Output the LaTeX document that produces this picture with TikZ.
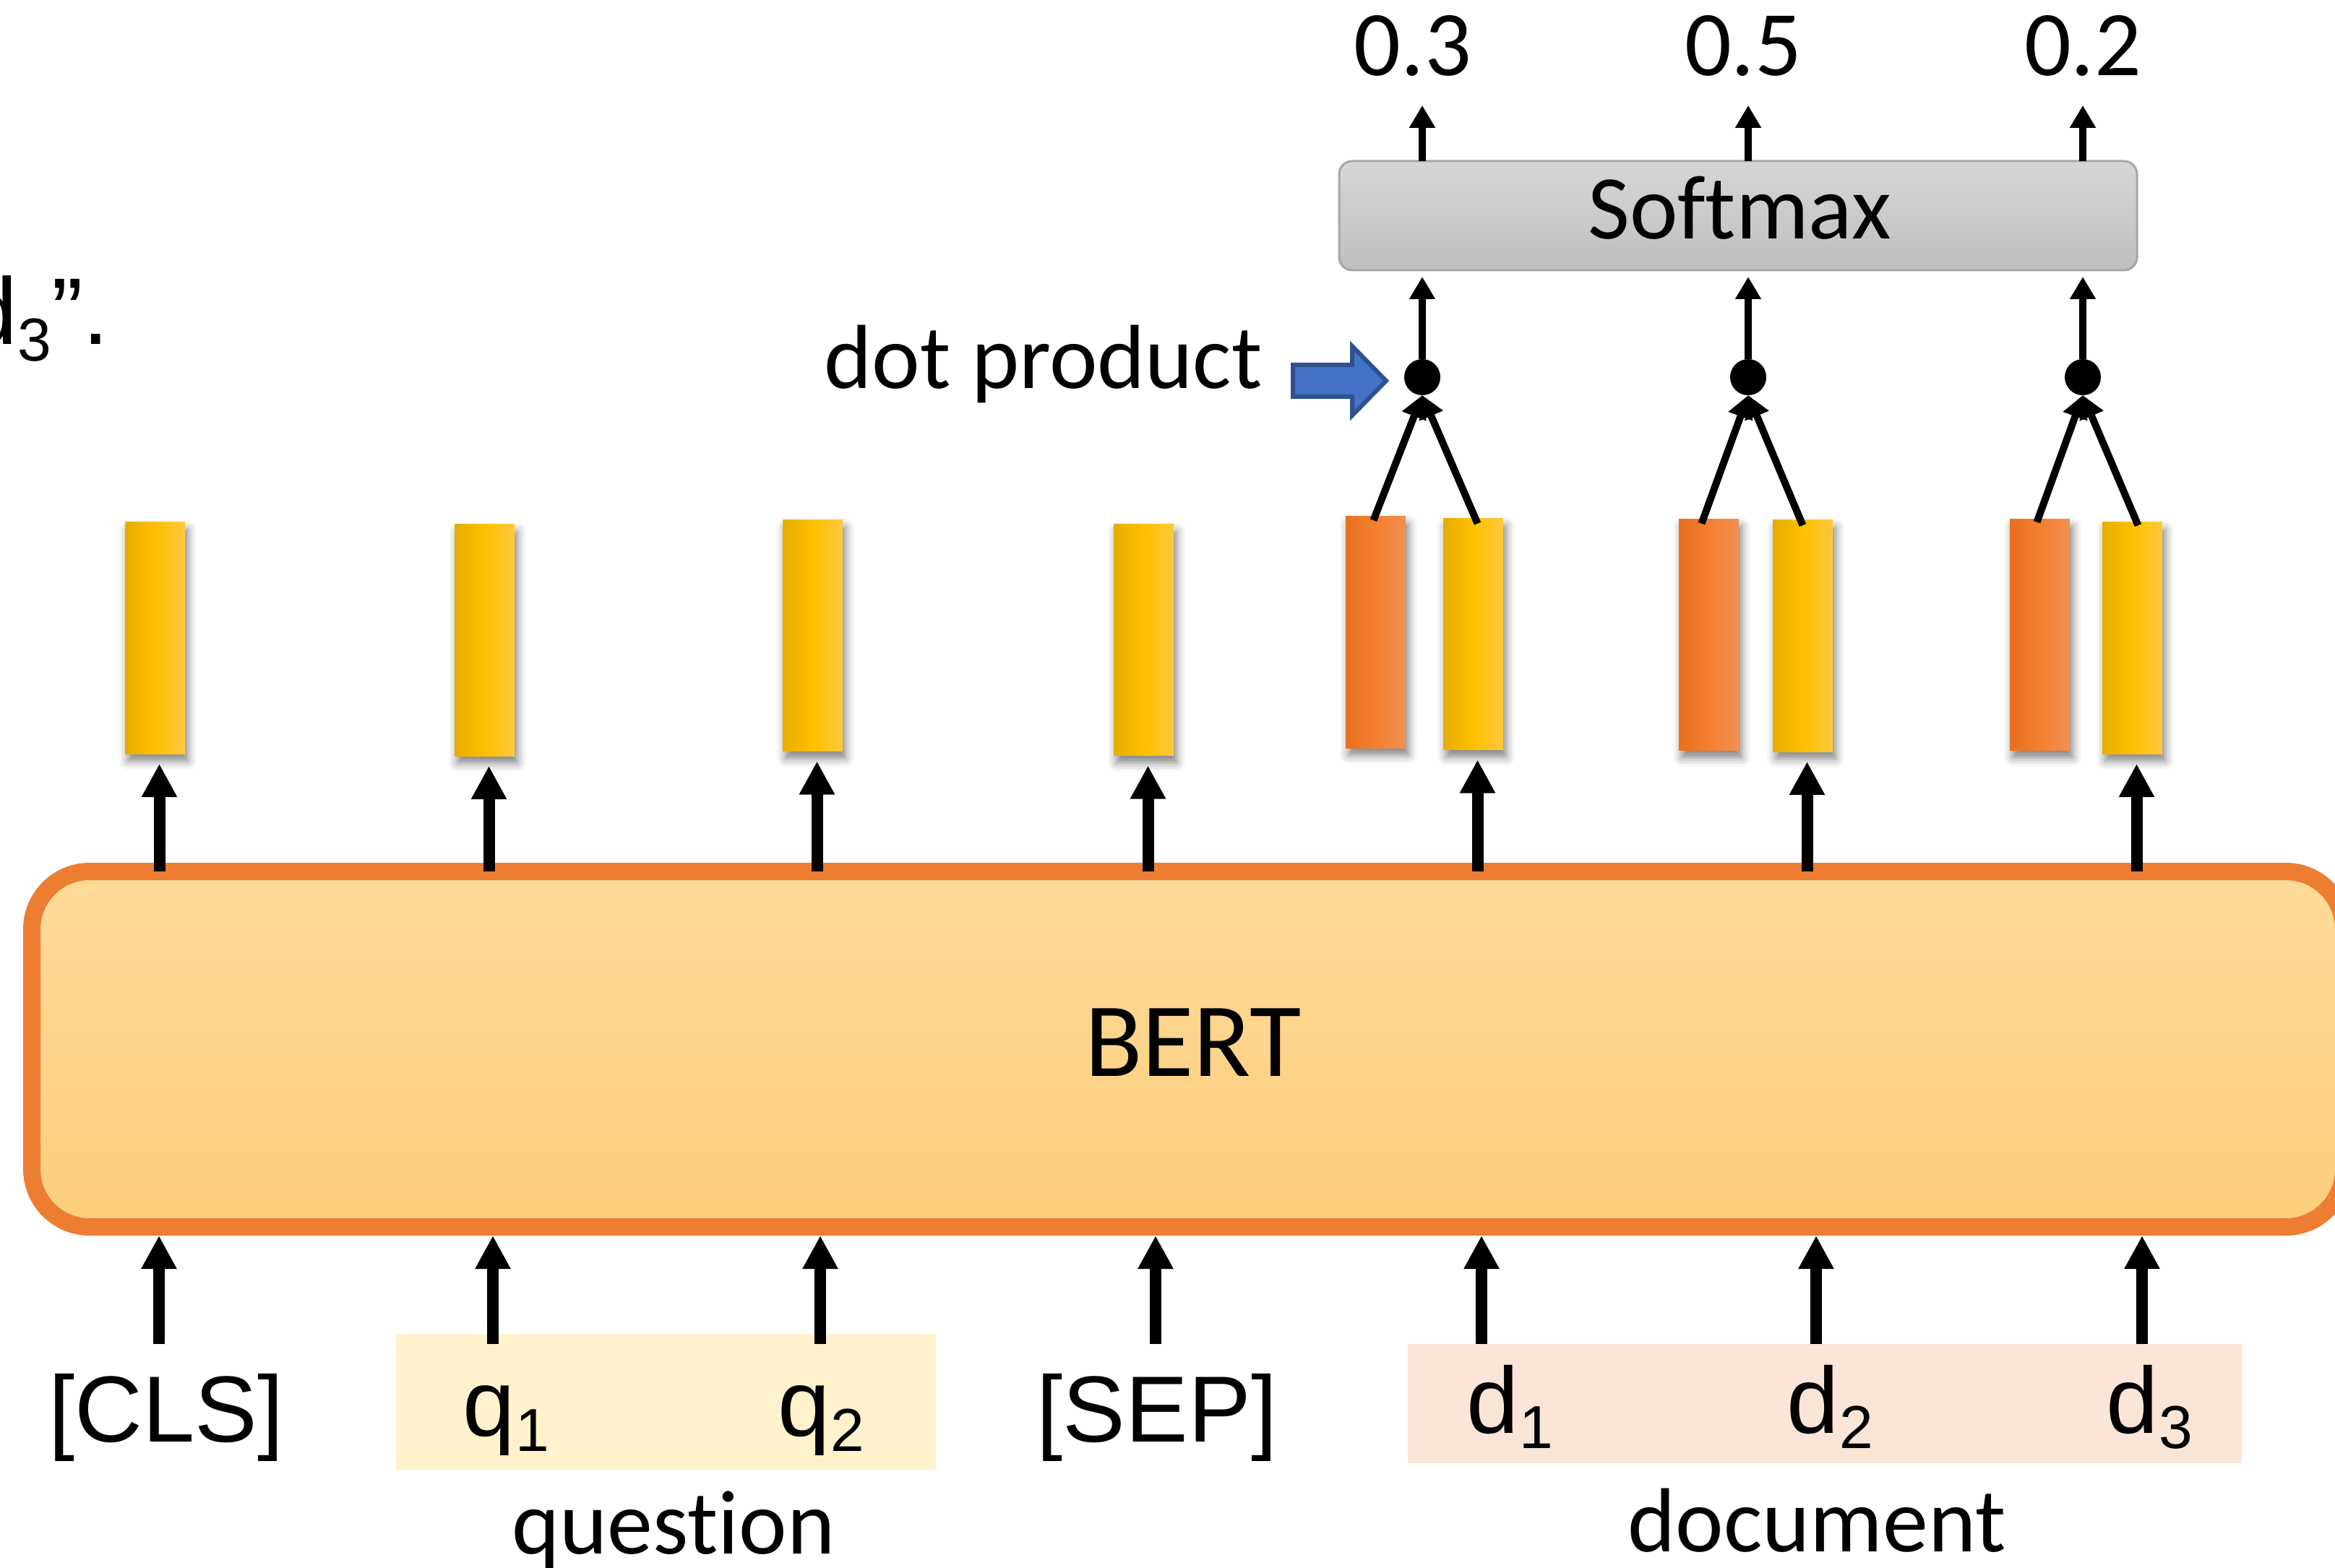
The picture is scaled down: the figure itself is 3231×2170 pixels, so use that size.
\documentclass[tikz,border=0pt]{standalone}
\usepackage{fontspec}
\setmainfont{Liberation Sans}
\newfontfamily\calib[Ligatures={NoCommon,NoContextual}]{Carlito}
\usetikzlibrary{arrows.meta,shadows.blur}
\definecolor{bertBorder}{HTML}{ED7D31}
\definecolor{bertTop}{HTML}{FEDA99}
\definecolor{bertBot}{HTML}{FCCE7D}
\definecolor{yL}{HTML}{E6AC00}
\definecolor{yM}{HTML}{FFC000}
\definecolor{yR}{HTML}{FFC93C}
\definecolor{oL}{HTML}{E8701F}
\definecolor{oM}{HTML}{F37F2F}
\definecolor{oR}{HTML}{F29052}
\definecolor{smTop}{HTML}{D6D6D6}
\definecolor{smBot}{HTML}{BFBFBF}
\definecolor{smBorder}{HTML}{A6A6A6}
\definecolor{qFill}{HTML}{FFF2CC}
\definecolor{dFill}{HTML}{FBE5D6}
\definecolor{blueFill}{HTML}{4472C4}
\definecolor{blueBorder}{HTML}{2F528F}
\newcommand{\tk}[2]{#1\raisebox{-5.25pt}{\fontsize{21}{21}\selectfont #2}}
\begin{document}
\begin{tikzpicture}[x=0.25pt,y=-0.25pt,
  barbase/.style={minimum width=20.75pt, minimum height=80pt, inner sep=0pt, outer sep=0pt,
    blur shadow={shadow xshift=1pt, shadow yshift=-2.5pt, shadow blur radius=3pt, shadow opacity=50}},
  ybar/.style={barbase, left color=yL, right color=yR, middle color=yM},
  obar/.style={barbase, left color=oL, right color=oR, middle color=oM},
  bigarr/.style={line width=4pt, -{Triangle[width=11.5pt,length=11.5pt]}},
  thinarr/.style={line width=2.5pt, -{Triangle[width=8.5pt,length=7.75pt]}},
  dotn/.style={circle, fill=black, minimum size=12.5pt, inner sep=0pt, outer sep=0pt},
  arialtxt/.style={font=\fontsize{32.5}{39}\selectfont, inner sep=0pt},
  calibtxt/.style={font=\calib\fontsize{31.5}{38}\selectfont, inner sep=0pt},
  bluearr/.style={fill=blueFill, draw=blueBorder, line width=1.5pt, line join=miter}
]
\useasboundingbox (0,0) rectangle (3231,2170);

% fragment of caption at top-left
\node[arialtxt, anchor=base west, font=\fontsize{32.75}{39}\selectfont] (frag) at (-49,477)
  {d\raisebox{-5.75pt}{\fontsize{21}{21}\selectfont 3}”.};

% BERT block
\node[draw=bertBorder, line width=6pt, rounded corners=20pt, top color=bertTop, bottom color=bertBot,
  minimum width=799.75pt, minimum height=123pt, inner sep=0pt, outer sep=0pt] (bert) at (1643.5,1452) {};
\node[calibtxt, font=\calib\fontsize{36.5}{44}\selectfont, anchor=base] (berttext) at (1651,1489) {BERT};

% highlight boxes
\node[fill=qFill, minimum width=186.75pt, minimum height=47pt, inner sep=0pt] (qbox) at (921.5,1940) {};
\node[fill=dFill, minimum width=288.5pt, minimum height=41.25pt, inner sep=0pt] (dbox) at (2525,1942.5) {};

% tokens
\node[arialtxt, anchor=base] (cls) at (230,1995) {[CLS]};
\node[arialtxt, anchor=base west] (q1) at (640,1987) {\tk{q}{1}};
\node[arialtxt, anchor=base west] (q2) at (1076,1987) {\tk{q}{2}};
\node[arialtxt, anchor=base] (sep) at (1601,1995) {[SEP]};
\node[arialtxt, anchor=base west] (d1) at (2029,1983) {\tk{d}{1}};
\node[arialtxt, anchor=base west] (d2) at (2472,1983) {\tk{d}{2}};
\node[arialtxt, anchor=base west] (d3) at (2914,1983) {\tk{d}{3}};
\node[calibtxt, anchor=base] (qlab) at (932,2150) {question};
\node[calibtxt, anchor=base] (dlab) at (2514,2147) {document};

% input arrows
\coordinate (s1) at (220,1860);
\coordinate (s2) at (682,1860);
\coordinate (s3) at (1135,1860);
\coordinate (s4) at (1599,1860);
\coordinate (s5) at (2050,1860);
\coordinate (s6) at (2513,1860);
\coordinate (s7) at (2964,1860);
\foreach \s in {s1,s2,s3,s4,s5,s6,s7}
  \draw[bigarr, shorten >=3pt] (\s) -- (\s |- bert.south);

% output vectors
\node[ybar] (y1) at (214.5,883) {};
\node[ybar] (y2) at (670.5,886) {};
\node[ybar] (y3) at (1124.5,879.5) {};
\node[ybar] (y4) at (1582.5,885.5) {};
\node[obar] (o1) at (1903.5,875) {};
\node[ybar] (y5) at (2038.5,877.5) {};
\node[obar] (o2) at (2364.5,878.5) {};
\node[ybar] (y6) at (2494.5,880) {};
\node[obar] (o3) at (2822.5,878.5) {};
\node[ybar] (y7) at (2950.5,883) {};

\foreach \b in {y1,y2,y3,y4,y5,y6,y7}
  \draw[bigarr] ([xshift=1.5pt]bert.north -| \b.south) -- ([xshift=1.5pt,yshift=-3.5pt]\b.south);

% dot products
\node[dotn] (p1) at (1968,522) {};
\node[dotn] (p2) at (2419,522) {};
\node[dotn] (p3) at (2882,522) {};
\draw[thinarr] ([xshift=-0.75pt,yshift=-1.25pt]o1.north) -- (p1.south);
\draw[thinarr] ([xshift=1.5pt,yshift=-1.75pt]y5.north) -- (p1.south);
\draw[thinarr] ([xshift=-2.5pt,yshift=-1.5pt]o2.north) -- (p2.south);
\draw[thinarr] ([xshift=0pt,yshift=-1.75pt]y6.north) -- (p2.south);
\draw[thinarr] ([xshift=-1pt,yshift=-1pt]o3.north) -- (p3.south);
\draw[thinarr] ([xshift=2pt,yshift=-1pt]y7.north) -- (p3.south);

% softmax
\node[draw=smBorder, line width=0.75pt, rounded corners=4.5pt, top color=smTop, bottom color=smBot,
  minimum width=276pt, minimum height=37.75pt, inner sep=0pt, outer sep=0pt] (sm) at (2405,298.5) {};
\node[calibtxt, anchor=base] (smtext) at (2407,331) {Softmax};

\foreach \p in {p1,p2,p3}
  \draw[thinarr, shorten >=2.25pt] (\p.north) -- (\p.north |- sm.south);

% probabilities
\node[calibtxt, font=\calib\fontsize{32}{38}\selectfont, anchor=base] (l1) at (1955,105) {0.3};
\node[calibtxt, font=\calib\fontsize{32}{38}\selectfont, anchor=base] (l2) at (2412,105) {0.5};
\node[calibtxt, font=\calib\fontsize{32}{38}\selectfont, anchor=base] (l3) at (2882,105) {0.2};
\draw[thinarr, shorten >=9.75pt] (sm.north -| p1) -- (l1.south -| p1);
\draw[thinarr, shorten >=9.75pt] (sm.north -| p2) -- (l2.south -| p2);
\draw[thinarr, shorten >=9.75pt] (sm.north -| p3) -- (l3.south -| p3);

% dot product label
\node[calibtxt, anchor=base west] (dp) at (1140,538) {dot product};
\draw[bluearr] (1789,505) -- (1871,505) -- (1871,479) -- (1918,527) -- (1871,575) -- (1871,549) -- (1789,549) -- cycle;
\end{tikzpicture}
\end{document}
